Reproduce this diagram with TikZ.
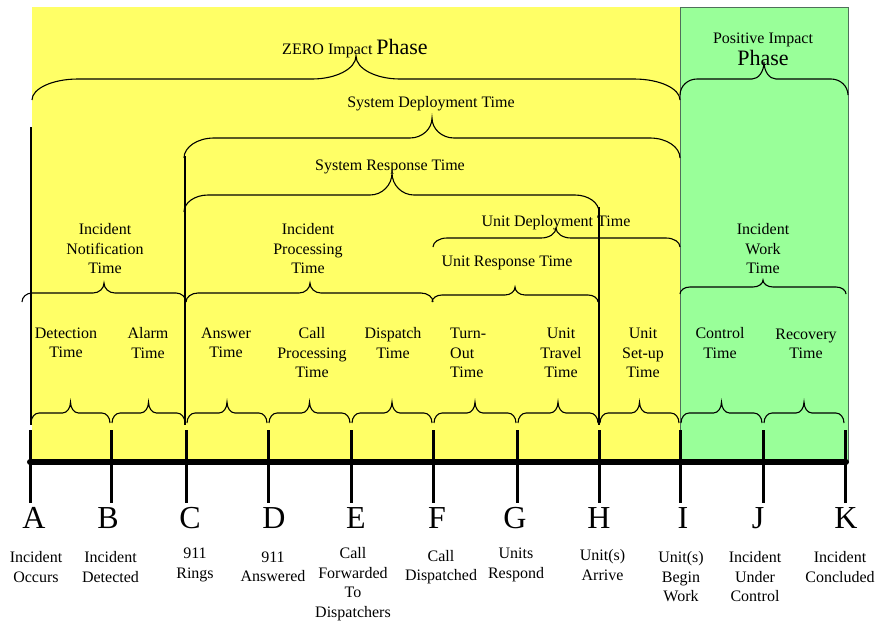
\documentclass[tikz,border=0pt]{standalone}
\usepackage{fontspec}
\setmainfont{Liberation Serif}
\definecolor{zy}{HTML}{FFFF66}
\definecolor{pg}{HTML}{99FF99}
\definecolor{pgb}{HTML}{4F6F5A}
% brace: x1, x2, xm, ytip, ystraight, yend, rend, rtip  (y grows downward)
\newcommand{\mybrace}[8]{%
 \draw[brc] (#1,#6) .. controls (#1,{#5+0.45*(#6-#5)}) and ({#1+0.45*#7},#5) .. ({#1+#7},#5)
  -- ({#3-#8},#5) .. controls ({#3-0.45*#8},#5) and (#3,{#5-0.45*(#5-#4)}) .. (#3,#4)
  .. controls (#3,{#5-0.45*(#5-#4)}) and ({#3+0.45*#8},#5) .. ({#3+#8},#5)
  -- ({#2-#7},#5) .. controls ({#2-0.45*#7},#5) and (#2,{#5+0.45*(#6-#5)}) .. (#2,#6);}
\begin{document}
\begin{tikzpicture}[x=1pt,y=-1pt,
  brc/.style={line width=1.1pt, black},
  vline/.style={line width=1.3pt, black},
  tick/.style={line width=3pt, black},
  lbl/.style={font=\fontsize{16}{19.5}\selectfont, align=center, inner sep=0pt},
  lbll/.style={font=\fontsize{16}{19.5}\selectfont, align=left, inner sep=0pt},
  big/.style={font=\fontsize{32}{36}\selectfont, inner sep=0pt}]
\useasboundingbox (0,0) rectangle (875,622);
% phases
\fill[zy] (32,7) rectangle (680,462);
\filldraw[fill=pg, draw=pgb, line width=0.8pt] (680,7) rectangle (848,462);
% big braces
\mybrace{32}{680}{356}{56}{79}{100}{46}{44}
\mybrace{680}{848}{764}{62}{79}{95}{17}{12}
\mybrace{184}{680}{432}{118}{138}{158}{30}{22}
\mybrace{184}{599}{392}{173}{195}{212}{24}{22}
\mybrace{433}{680}{556}{228}{238}{247}{14}{15}
% middle braces
\mybrace{22}{186}{104}{283}{293}{302}{10}{11}
\mybrace{186}{433}{310}{283}{293}{302}{12}{11}
\mybrace{432}{598}{515}{287}{295}{302}{10}{10}
\mybrace{680}{846}{763}{280}{287}{294}{10}{10}
% small braces
\foreach \a/\b in {30/111,111/186,186/268,268/351,351/433,433/517,517/599,599/680,680/763,763/845}{
  \pgfmathsetmacro{\m}{(\a+\b)/2}
  \mybrace{\a+1}{\b-1}{\m}{402}{413}{423}{8}{8}
}
% vertical lines
\draw[vline] (31,127) -- (31,425);
\draw[vline] (185,156) -- (185,425);
\draw[vline] (599,207) -- (599,425);
% timeline
\draw[line width=6pt, line cap=round] (30,462) -- (846,462);
\foreach \x in {30,111,186,268,351,433,517,599,680,763,845}{
  \draw[tick] (\x,430) -- (\x,503);
}
% top labels
\node[lbl, anchor=base] (zero) at (355,54.5) {ZERO Impact {\fontsize{22}{26}\selectfont Phase}};
\node[lbl, anchor=base] (pos1) at (763,43.5) {Positive Impact};
\node[lbl, anchor=base, font=\fontsize{22}{26}\selectfont] (pos2) at (763,65) {Phase};
\node[lbl, anchor=base] (sdt) at (431,107) {System Deployment Time};
\node[lbl, anchor=base] (srt) at (390,170.7) {System Response Time};
\node[lbl, anchor=base] (udt) at (556,226.7) {Unit Deployment Time};
\node[lbl, anchor=base] (urt) at (507,266.7) {Unit Response Time};
% middle labels
\node[lbl] (inot) at (105,249) {Incident\\Notification\\Time};
\node[lbl] (iproc) at (308,249) {Incident\\Processing\\Time};
\node[lbl] (iwork) at (763,249) {Incident\\Work\\Time};
% small labels
\node[lbl] (det) at (66,343) {Detection\\Time};
\node[lbl] (alarm) at (148,343) {Alarm\\Time};
\node[lbl] (answer) at (226,343) {Answer\\Time};
\node[lbl] (callproc) at (312,353) {Call\\Processing\\Time};
\node[lbl] (disp) at (393,343) {Dispatch\\Time};
\node[lbll, anchor=west] (turn) at (450,353) {Turn-\\Out\\Time};
\node[lbl] (travel) at (561,353) {Unit\\Travel\\Time};
\node[lbl] (setup) at (643,353) {Unit\\Set-up\\Time};
\node[lbl] (control) at (720,343) {Control\\Time};
\node[lbl] (recovery) at (806,344) {Recovery\\Time};
% letters
\foreach \n/\x in {A/34,B/108,C/190,D/274,E/356,F/437,G/515,H/599,I/683,J/758,K/846}{
  \node[big, anchor=base] (let\n) at (\x,528) {\n};
}
% bottom labels
\node[lbl] (lA) at (36,567) {Incident\\Occurs};
\node[lbl] (lB) at (110.5,567) {Incident\\Detected};
\node[lbl] (lC) at (195,565) {911\\Rings};
\node[lbl] (lD) at (273,567) {911\\Answered};
\node[lbl] (lE) at (353,584) {Call\\Forwarded\\To\\Dispatchers};
\node[lbl] (lF) at (441,567) {Call\\Dispatched};
\node[lbl] (lG) at (516,565) {Units\\Respond};
\node[lbl] (lH) at (602.5,565) {Unit(s)\\Arrive};
\node[lbl] (lI) at (681,577) {Unit(s)\\Begin\\Work};
\node[lbl] (lJ) at (755,577) {Incident\\Under\\Control};
\node[lbl] (lK) at (840,567) {Incident\\Concluded};
\end{tikzpicture}
\end{document}
